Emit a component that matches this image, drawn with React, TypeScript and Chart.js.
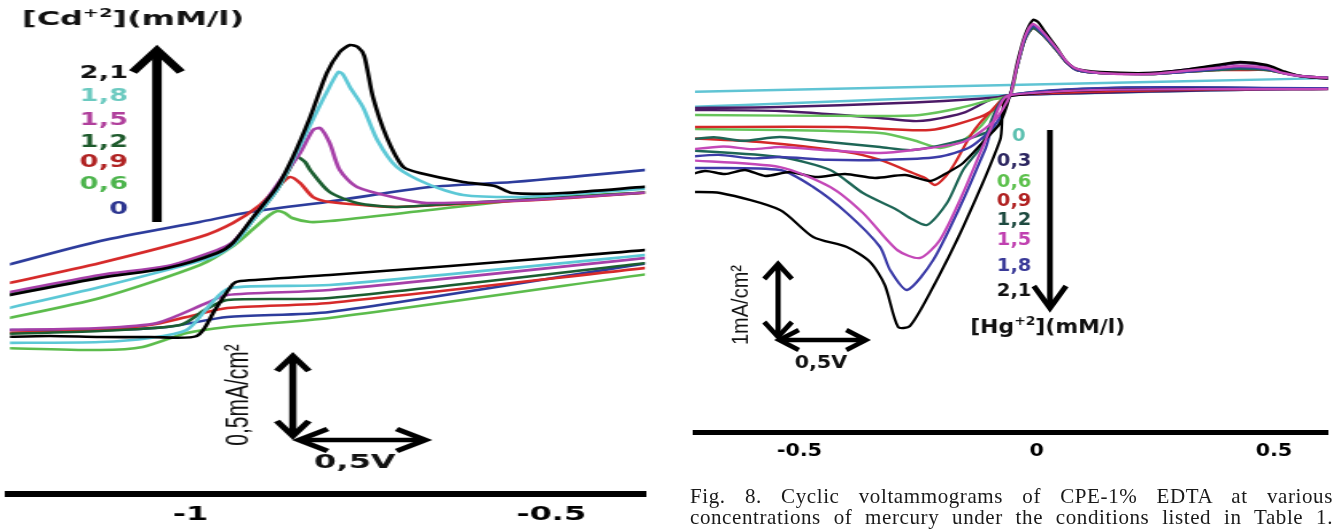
import React, { useEffect, useRef } from "react";
import { Chart, registerables } from "chart.js";

Chart.register(...registerables);

type Pt = [number, number];

// ---------------- Left panel : Cd(+2), potential (V) vs current (mA/cm2) ----------------
const CD_TICKS = [-1, -0.5];
const CD_LABELS = ["2,1", "1,8", "1,5", "1,2", "0,9", "0,6", "0"];
const CD_COLORS = ["#000000", "#5cc8d6", "#a63fa8", "#1b5e30", "#d62a2a", "#5cbc4c", "#2d3c9c"];
const CD_LABEL_COLORS = ["#111111", "#6ccac0", "#b0409c", "#1e5a2c", "#b02222", "#4cb44c", "#2c3590"];

const CD_21: Pt[] = [
  [-1.264, 0.031], [-1.125, 0.15], [-1.032, 0.2125], [-0.963, 0.306], [-0.941, 0.369], [-0.913, 0.531],
  [-0.88, 0.719], [-0.858, 0.906], [-0.834, 1.156], [-0.811, 1.431], [-0.793, 1.5625], [-0.779, 1.606],
  [-0.768, 1.594], [-0.759, 1.5375], [-0.747, 1.281], [-0.728, 1.031], [-0.705, 0.844], [-0.682, 0.806],
  [-0.622, 0.75], [-0.578, 0.725], [-0.554, 0.681], [-0.484, 0.681], [-0.356, 0.725], [-0.3, 0.74],
  [-0.3, 0.36], [-0.356, 0.331], [-0.502, 0.275], [-0.64, 0.225], [-0.807, 0.169], [-0.931, 0.131],
  [-0.941, 0.1125], [-0.966, -0.05], [-0.991, -0.2125], [-1.056, -0.219], [-1.125, -0.219], [-1.195, -0.2125],
  [-1.264, -0.219],
];
const CD_18: Pt[] = [
  [-1.264, -0.05], [-1.125, 0.094], [-0.969, 0.281], [-0.941, 0.356], [-0.913, 0.5125], [-0.88, 0.7],
  [-0.858, 0.8875], [-0.834, 1.106], [-0.813, 1.294], [-0.795, 1.4375], [-0.789, 1.425], [-0.779, 1.344],
  [-0.761, 1.219], [-0.741, 1.0125], [-0.714, 0.844], [-0.668, 0.731], [-0.622, 0.669], [-0.553, 0.656],
  [-0.488, 0.669], [-0.356, 0.7125], [-0.3, 0.72],
  [-0.3, 0.33], [-0.356, 0.3], [-0.807, 0.106], [-0.945, 0.0875], [-0.973, -0.019], [-1.005, -0.175],
  [-1.056, -0.225], [-1.125, -0.25], [-1.264, -0.256],
];
const CD_15: Pt[] = [
  [-1.264, 0.05], [-1.125, 0.169], [-1.032, 0.225], [-0.963, 0.325], [-0.941, 0.375], [-0.913, 0.525],
  [-0.88, 0.731], [-0.848, 0.931], [-0.83, 1.075], [-0.82, 1.0875], [-0.807, 0.994], [-0.793, 0.825],
  [-0.769, 0.719], [-0.714, 0.65], [-0.672, 0.619], [-0.529, 0.6375], [-0.356, 0.6875], [-0.3, 0.7],
  [-0.3, 0.31], [-0.356, 0.281], [-0.807, 0.075], [-0.949, 0.044], [-0.977, -0.006], [-1.046, -0.131],
  [-1.125, -0.1625], [-1.264, -0.175],
];
const CD_12: Pt[] = [
  [-1.264, 0.0375], [-1.125, 0.156], [-1.032, 0.219], [-0.963, 0.319], [-0.941, 0.369], [-0.913, 0.5125],
  [-0.88, 0.7], [-0.862, 0.8375], [-0.852, 0.906], [-0.841, 0.875], [-0.834, 0.825], [-0.807, 0.6875],
  [-0.769, 0.619], [-0.714, 0.594], [-0.622, 0.619], [-0.502, 0.65], [-0.356, 0.6875], [-0.3, 0.7],
  [-0.3, 0.28], [-0.356, 0.25], [-0.807, 0.025], [-0.949, 0.0125], [-0.98, -0.05], [-1.014, -0.144],
  [-1.125, -0.181], [-1.264, -0.2],
];
const CD_09: Pt[] = [
  [-1.264, 0.106], [-1.125, 0.244], [-0.987, 0.406], [-0.941, 0.494], [-0.9035, 0.606], [-0.876, 0.731],
  [-0.862, 0.781], [-0.848, 0.744], [-0.83, 0.656], [-0.807, 0.625], [-0.761, 0.606], [-0.714, 0.594],
  [-0.575, 0.625], [-0.474, 0.65], [-0.356, 0.6875], [-0.3, 0.7],
  [-0.3, 0.24], [-0.356, 0.219], [-0.807, -0.006], [-0.949, -0.0375], [-1.005, -0.094], [-1.056, -0.144],
  [-1.125, -0.175], [-1.264, -0.194],
];
const CD_06: Pt[] = [
  [-1.264, -0.1125], [-1.125, 0.025], [-0.987, 0.231], [-0.941, 0.35], [-0.913, 0.456], [-0.89, 0.544],
  [-0.879, 0.569], [-0.869, 0.556], [-0.859, 0.525], [-0.834, 0.5], [-0.807, 0.506], [-0.668, 0.575],
  [-0.529, 0.644], [-0.356, 0.6875], [-0.3, 0.7],
  [-0.3, 0.216], [-0.356, 0.181], [-0.807, -0.1], [-0.949, -0.156], [-1.005, -0.194], [-1.066, -0.281],
  [-1.125, -0.3], [-1.264, -0.2875],
];
const CD_00: Pt[] = [
  [-1.264, 0.219], [-1.125, 0.381], [-0.987, 0.5], [-0.917, 0.5625], [-0.811, 0.625], [-0.668, 0.719],
  [-0.553, 0.75], [-0.356, 0.831], [-0.3, 0.86],
  [-0.3, 0.28], [-0.356, 0.25], [-0.807, -0.0625], [-0.949, -0.094], [-1.032, -0.156], [-1.125, -0.175],
  [-1.264, -0.175],
];
const CD_SERIES = [CD_21, CD_18, CD_15, CD_12, CD_09, CD_06, CD_00];

// ---------------- Right panel : Hg(+2) ----------------
const HG_TICKS = [-0.5, 0, 0.5];
const HG_LABELS = ["0", "0,3", "0,6", "0,9", "1,2", "1,5", "1,8", "2,1"];
const HG_LABEL_COLORS = ["#5cc0b0", "#2c2660", "#5cc04c", "#b02020", "#1e4a40", "#c040b0", "#3a3a98", "#111111"];

const HG_00: Pt[] = [
  [-0.741, -0.054], [-0.056, 0.046], [0.629, 0.145], [0.7, 0.155],
  [0.7, 0.0], [0.629, 0.003], [-0.056, -0.097], [-0.615, -0.239], [-0.741, -0.268],
];
const HG_03: Pt[] = [
  [-0.741, -0.282], [-0.541, -0.268], [-0.288, -0.211], [-0.162, -0.168], [-0.077, -0.125], [-0.056, -0.097],
  [-0.041, 0.302], [-0.025, 0.687], [-0.008, 0.858], [0.013, 0.758], [0.043, 0.53], [0.064, 0.359],
  [0.085, 0.259], [0.134, 0.217], [0.239, 0.217], [0.308, 0.259], [0.38, 0.316], [0.429, 0.359],
  [0.485, 0.316], [0.519, 0.231], [0.555, 0.174], [0.629, 0.131], [0.7, 0.125],
  [0.7, 0.0], [0.629, 0.003], [-0.056, -0.097], [-0.098, -0.168], [-0.155, -0.353], [-0.225, -0.453],
  [-0.261, -0.468], [-0.33, -0.425], [-0.541, -0.325], [-0.741, -0.311],
];
const HG_06: Pt[] = [
  [-0.741, -0.382], [-0.33, -0.396], [-0.246, -0.382], [-0.162, -0.282], [-0.098, -0.168], [-0.056, -0.097],
  [-0.041, 0.302], [-0.025, 0.687], [-0.008, 0.858], [0.013, 0.758], [0.043, 0.53], [0.064, 0.359],
  [0.085, 0.259], [0.134, 0.217], [0.239, 0.202], [0.308, 0.231], [0.38, 0.259], [0.429, 0.274],
  [0.485, 0.259], [0.519, 0.217], [0.555, 0.174], [0.629, 0.145], [0.7, 0.14],
  [0.7, 0.0], [0.629, 0.003], [-0.056, -0.097], [-0.119, -0.553], [-0.162, -0.767], [-0.204, -0.852],
  [-0.261, -0.738], [-0.33, -0.639], [-0.541, -0.596], [-0.741, -0.582],
];
const HG_09: Pt[] = [
  [-0.741, -0.553], [-0.4, -0.553], [-0.225, -0.596], [-0.119, -0.41], [-0.077, -0.239], [-0.056, -0.097],
  [-0.041, 0.302], [-0.025, 0.687], [-0.008, 0.858], [0.013, 0.758], [0.043, 0.53], [0.064, 0.359],
  [0.085, 0.259], [0.134, 0.217], [0.239, 0.202], [0.308, 0.231], [0.38, 0.259], [0.429, 0.259],
  [0.485, 0.259], [0.519, 0.217], [0.555, 0.174], [0.629, 0.145], [0.7, 0.14],
  [0.7, 0.0], [0.629, 0.003], [-0.056, -0.097], [-0.098, -0.339], [-0.136, -0.639], [-0.172, -1.066],
  [-0.193, -1.266], [-0.214, -1.38], [-0.235, -1.28], [-0.261, -1.209], [-0.33, -1.023], [-0.4, -0.909],
  [-0.583, -0.767], [-0.741, -0.71],
];
const HG_12: Pt[] = [
  [-0.741, -0.738], [-0.68, -0.7], [-0.62, -0.75], [-0.541, -0.696], [-0.45, -0.76], [-0.33, -0.838],
  [-0.261, -0.881], [-0.155, -0.738], [-0.084, -0.553], [-0.067, -0.268], [-0.056, -0.097],
  [-0.041, 0.302], [-0.025, 0.687], [-0.008, 0.858], [0.013, 0.758], [0.043, 0.53], [0.064, 0.359],
  [0.085, 0.259], [0.134, 0.217], [0.239, 0.202], [0.308, 0.231], [0.38, 0.259], [0.429, 0.274],
  [0.485, 0.259], [0.519, 0.217], [0.555, 0.174], [0.629, 0.145], [0.7, 0.14],
  [0.7, 0.0], [0.629, 0.003], [-0.056, -0.097], [-0.119, -0.852], [-0.155, -1.166], [-0.189, -1.636],
  [-0.231, -1.95], [-0.267, -1.85], [-0.294, -1.736], [-0.366, -1.494], [-0.435, -1.166], [-0.541, -0.981],
  [-0.741, -0.881],
];
const HG_15: Pt[] = [
  [-0.741, -0.881], [-0.66, -0.83], [-0.6, -0.87], [-0.541, -0.838], [-0.45, -0.88], [-0.33, -0.924],
  [-0.261, -0.881], [-0.155, -0.767], [-0.088, -0.453], [-0.056, -0.097],
  [-0.041, 0.331], [-0.025, 0.73], [-0.008, 0.915], [0.013, 0.801], [0.043, 0.559], [0.064, 0.373],
  [0.085, 0.274], [0.134, 0.217], [0.239, 0.202], [0.308, 0.245], [0.38, 0.288], [0.429, 0.316],
  [0.485, 0.288], [0.519, 0.217], [0.555, 0.174], [0.629, 0.145], [0.7, 0.14],
  [0.7, -0.01], [0.629, -0.011], [-0.056, -0.097], [-0.098, -0.596], [-0.155, -1.494], [-0.204, -2.164],
  [-0.246, -2.42], [-0.294, -2.306], [-0.366, -1.779], [-0.435, -1.408], [-0.541, -1.124], [-0.741, -1.023],
];
const HG_18: Pt[] = [
  [-0.741, -0.981], [-0.67, -0.95], [-0.6, -1.0], [-0.541, -0.981], [-0.44, -1.02], [-0.33, -1.023],
  [-0.21, -0.981], [-0.14, -0.838], [-0.088, -0.525], [-0.056, -0.097],
  [-0.041, 0.316], [-0.025, 0.701], [-0.008, 0.887], [0.013, 0.773], [0.043, 0.544], [0.064, 0.359],
  [0.085, 0.259], [0.134, 0.217], [0.239, 0.202], [0.308, 0.231], [0.38, 0.274], [0.429, 0.302],
  [0.485, 0.274], [0.519, 0.217], [0.555, 0.174], [0.629, 0.145], [0.7, 0.14],
  [0.7, 0.0], [0.629, 0.003], [-0.056, -0.097], [-0.109, -0.881], [-0.155, -1.594], [-0.218, -2.449],
  [-0.273, -2.876], [-0.309, -2.591], [-0.33, -2.263], [-0.4, -1.779], [-0.471, -1.408], [-0.541, -1.166],
  [-0.741, -1.137],
];
const HG_21: Pt[] = [
  [-0.741, -1.252], [-0.699, -1.18], [-0.657, -1.223], [-0.615, -1.166], [-0.572, -1.251], [-0.52, -1.194],
  [-0.467, -1.266], [-0.404, -1.223], [-0.341, -1.28], [-0.277, -1.238], [-0.225, -1.323], [-0.193, -1.223],
  [-0.155, -1.066], [-0.109, -0.738], [-0.077, -0.496], [-0.056, -0.097],
  [-0.041, 0.373], [-0.025, 0.758], [-0.008, 0.972], [0.003, 0.944], [0.018, 0.801], [0.043, 0.573],
  [0.064, 0.373], [0.085, 0.274], [0.134, 0.231], [0.239, 0.217], [0.308, 0.259], [0.38, 0.331],
  [0.429, 0.373], [0.485, 0.331], [0.519, 0.245], [0.555, 0.174], [0.629, 0.131], [0.7, 0.125],
  [0.7, -0.01], [0.629, -0.011], [-0.056, -0.111], [-0.077, -0.738], [-0.155, -1.978], [-0.225, -2.919],
  [-0.267, -3.389], [-0.292, -3.404], [-0.32, -2.805], [-0.351, -2.477], [-0.4, -2.263], [-0.471, -2.121],
  [-0.541, -1.736], [-0.667, -1.494], [-0.741, -1.48],
];
// drawing order: first = on top
const HG_SERIES = [HG_15, HG_21, HG_18, HG_12, HG_09, HG_06, HG_03, HG_00];
const HG_COLORS = ["#c448b8", "#000000", "#3c3ca8", "#1e6656", "#d42828", "#66c45a", "#4b1a66", "#60c4d4"];

const CAPTION_1 = "Fig. 8. Cyclic voltammograms of CPE-1% EDTA at various";
const CAPTION_2 = "concentrations of mercury under the conditions listed in Table 1.";

// ---------------- drawing helpers ----------------
const SANS_B = '"DejaVu Sans", Verdana, sans-serif';
const SANS_R = '"Liberation Sans", Arial, sans-serif';

function head(ctx: CanvasRenderingContext2D, x: number, y: number, dx: number, dy: number, len: number, half: number) {
  const bx = x - dx * len, by = y - dy * len;
  const nx = -dy, ny = dx;
  ctx.beginPath();
  ctx.moveTo(bx + nx * half, by + ny * half);
  ctx.lineTo(x, y);
  ctx.lineTo(bx - nx * half, by - ny * half);
  ctx.stroke();
}
function seg(ctx: CanvasRenderingContext2D, x1: number, y1: number, x2: number, y2: number) {
  ctx.beginPath();
  ctx.moveTo(x1, y1);
  ctx.lineTo(x2, y2);
  ctx.stroke();
}
function supText(ctx: CanvasRenderingContext2D, parts: [string, boolean][], x: number, y: number, size: number, color: string) {
  let cx = x;
  ctx.fillStyle = color;
  ctx.textAlign = "left";
  ctx.textBaseline = "middle";
  for (const [s, sup] of parts) {
    const sz = sup ? Math.round(size * 0.62) : size;
    ctx.font = `bold ${sz}px ${SANS_B}`;
    ctx.fillText(s, cx, sup ? y - size * 0.32 : y);
    cx += ctx.measureText(s).width;
  }
}
function rotText(ctx: CanvasRenderingContext2D, s: string, x: number, y: number, font: string) {
  ctx.save();
  ctx.translate(x, y);
  ctx.rotate(-Math.PI / 2);
  ctx.font = font;
  ctx.fillStyle = "#111";
  ctx.textAlign = "center";
  ctx.textBaseline = "middle";
  ctx.fillText(s, 0, 0);
  ctx.restore();
}

const leftAnnot = {
  id: "leftAnnot",
  afterDraw(chart: any) {
    const ctx: CanvasRenderingContext2D = chart.ctx;
    const X = (v: number) => chart.scales.x.getPixelForValue(v);
    const Y = (v: number) => chart.scales.y.getPixelForValue(v);
    ctx.save();
    ctx.lineJoin = "miter";
    ctx.lineCap = "butt";
    ctx.strokeStyle = "#000";
    // title
    supText(ctx, [["[Cd", false], ["+2", true], ["](mM/l)", false]], X(-1.2334), Y(1.7625), 20, "#111");
    // concentration labels
    const ly = [1.425, 1.281, 1.131, 0.994, 0.869, 0.731, 0.575];
    ctx.textAlign = "right";
    ctx.textBaseline = "middle";
    ctx.font = `bold 17px ${SANS_B}`;
    CD_LABELS.forEach((t, i) => {
      ctx.fillStyle = CD_LABEL_COLORS[i];
      ctx.fillText(t, X(-1.0865), Y(ly[i]));
    });
    // up arrow
    const ax = X(-1.0463), tip = Y(1.5875);
    ctx.lineWidth = 6;
    seg(ctx, ax, Y(0.5), ax, tip + 3);
    head(ctx, ax, tip + 2, 0, -1, 22, 15);
    // scale bar
    const sx = X(-0.858), sy1 = Y(-0.331), sy2 = Y(-0.844);
    ctx.lineWidth = 4.5;
    seg(ctx, sx, sy1 + 2, sx, sy2 - 2);
    head(ctx, sx, sy1 + 1, 0, -1, 15, 10);
    head(ctx, sx, sy2 - 1, 0, 1, 15, 10);
    const hx1 = X(-0.852), hx2 = X(-0.672), hy = Y(-0.8625);
    seg(ctx, hx1 + 2, hy, hx2 - 2, hy);
    head(ctx, hx1 + 1, hy, -1, 0, 18, 11);
    head(ctx, hx2 - 1, hy, 1, 0, 18, 11);
    rotText(ctx, "0,5mA/cm²", X(-0.934), Y(-0.581), `21px ${SANS_R}`);
    ctx.fillStyle = "#111";
    ctx.font = `bold 20px ${SANS_B}`;
    ctx.textAlign = "center";
    ctx.fillText("0,5V", X(-0.772), Y(-1.006));
    ctx.restore();
  },
};

const rightAnnot = {
  id: "rightAnnot",
  afterDraw(chart: any) {
    const ctx: CanvasRenderingContext2D = chart.ctx;
    const X = (v: number) => chart.scales.x.getPixelForValue(v);
    const Y = (v: number) => chart.scales.y.getPixelForValue(v);
    ctx.save();
    ctx.lineJoin = "miter";
    ctx.lineCap = "butt";
    ctx.strokeStyle = "#000";
    const ly = [-0.696, -1.052, -1.351, -1.622, -1.893, -2.178, -2.548, -2.905];
    ctx.textAlign = "left";
    ctx.textBaseline = "middle";
    ctx.font = `bold 17px ${SANS_B}`;
    HG_LABELS.forEach((t, i) => {
      ctx.fillStyle = HG_LABEL_COLORS[i];
      ctx.fillText(t, X(i === 0 ? -0.052 : -0.084), Y(ly[i]));
    });
    // down arrow
    const ax = X(0.028), tip = Y(-3.161);
    ctx.lineWidth = 5;
    seg(ctx, ax, Y(-0.596), ax, tip - 3);
    head(ctx, ax, tip - 2, 0, 1, 22, 14);
    supText(ctx, [["[Hg", false], ["+2", true], ["](mM/l)", false]], X(-0.14), Y(-3.418), 19, "#111");
    // scale bar
    const sx = X(-0.545), sy1 = Y(-2.491), sy2 = Y(-3.56);
    ctx.lineWidth = 4.5;
    seg(ctx, sx, sy1 + 2, sx, sy2 - 2);
    head(ctx, sx, sy1 + 1, 0, -1, 15, 12);
    head(ctx, sx, sy2 - 1, 0, 1, 15, 12);
    const hx1 = X(-0.545), hx2 = X(-0.3575), hy = Y(-3.589);
    seg(ctx, hx1 + 2, hy, hx2 - 2, hy);
    head(ctx, hx1 + 1, hy, -1, 0, 17, 10);
    head(ctx, hx2 - 1, hy, 1, 0, 17, 10);
    rotText(ctx, "1mA/cm²", X(-0.621), Y(-3.09), `20px ${SANS_R}`);
    ctx.fillStyle = "#111";
    ctx.font = `bold 18px ${SANS_B}`;
    ctx.textAlign = "center";
    ctx.fillText("0,5V", X(-0.4545), Y(-3.917));
    ctx.restore();
  },
};

function makeConfig(opt: {
  series: Pt[][]; colors: string[]; width: number; xmin: number; xmax: number; ymin: number; ymax: number;
  ticks: number[]; pad: { left: number; right: number; top: number }; axisH: number; tickSize: number;
  tickPad: number; plugin: any; borderW: number;
}): any {
  return {
    type: "line",
    data: {
      datasets: opt.series.map((s, i) => ({
        data: s.map(([x, y]) => ({ x, y })),
        borderColor: opt.colors[i],
        borderWidth: opt.width,
        pointRadius: 0,
        tension: 0.25,
        fill: false,
        order: i,
      })),
    },
    options: {
      responsive: false,
      animation: false,
      devicePixelRatio: 1,
      events: [],
      layout: { padding: { left: opt.pad.left, right: opt.pad.right, top: opt.pad.top, bottom: 0 } },
      elements: { line: { capBezierPoints: false, borderJoinStyle: "round" } },
      plugins: { legend: { display: false }, tooltip: { enabled: false } },
      scales: {
        x: {
          type: "linear",
          position: "bottom",
          min: opt.xmin,
          max: opt.xmax,
          afterBuildTicks: (s: any) => {
            s.ticks = opt.ticks.map((v) => ({ value: v }));
          },
          afterFit: (s: any) => {
            s.height = opt.axisH;
          },
          grid: { display: false, drawTicks: false },
          border: { display: true, width: opt.borderW, color: "#000" },
          ticks: {
            color: "#000",
            padding: opt.tickPad,
            autoSkip: false,
            maxRotation: 0,
            font: { family: SANS_B, weight: "bold", size: opt.tickSize },
            callback: (v: any) => String(v),
          },
        },
        y: { type: "linear", min: opt.ymin, max: opt.ymax, display: false },
      },
    },
    plugins: [opt.plugin],
  };
}

export default function App() {
  const leftRef = useRef<HTMLCanvasElement>(null);
  const rightRef = useRef<HTMLCanvasElement>(null);

  useEffect(() => {
    const left = new Chart(
      leftRef.current!,
      makeConfig({
        series: CD_SERIES, colors: CD_COLORS, width: 2.6,
        xmin: -1.25, xmax: -0.37, ymin: -1.2, ymax: 1.8, ticks: CD_TICKS,
        pad: { left: 6.25, right: 11.875, top: 14 }, axisH: 35, tickSize: 20, tickPad: 9,
        plugin: leftAnnot, borderW: 6,
      })
    );
    const right = new Chart(
      rightRef.current!,
      makeConfig({
        series: HG_SERIES, colors: HG_COLORS, width: 2.4,
        xmin: -0.72, xmax: 0.614, ymin: -4.9, ymax: 1.2, ticks: HG_TICKS,
        pad: { left: 13.05, right: 4.35, top: 4 }, axisH: 97, tickSize: 18, tickPad: 9,
        plugin: rightAnnot, borderW: 5,
      })
    );
    return () => {
      left.destroy();
      right.destroy();
    };
  }, []);

  const lineStyle: React.CSSProperties = { textAlign: "justify", textAlignLast: "justify" as any };
  return (
    <div style={{ position: "absolute", left: 0, top: 0, width: 1333, height: 529, overflow: "hidden", background: "#fff" }}>
      <canvas ref={leftRef} width={415} height={529} style={{ position: "absolute", left: 0, top: 0, width: 664, height: 529 }} />
      <canvas ref={rightRef} width={568} height={529} style={{ position: "absolute", left: 680, top: 0, width: 653, height: 529 }} />
      <div
        style={{
          position: "absolute", left: 690, top: 486, width: 643,
          fontFamily: '"Liberation Serif", "Times New Roman", serif', fontSize: 21, lineHeight: "21px",
          letterSpacing: "0.6px", color: "#1a1a1a",
        }}
      >
        <div style={lineStyle}>{CAPTION_1}</div>
        <div style={lineStyle}>{CAPTION_2}</div>
      </div>
    </div>
  );
}
